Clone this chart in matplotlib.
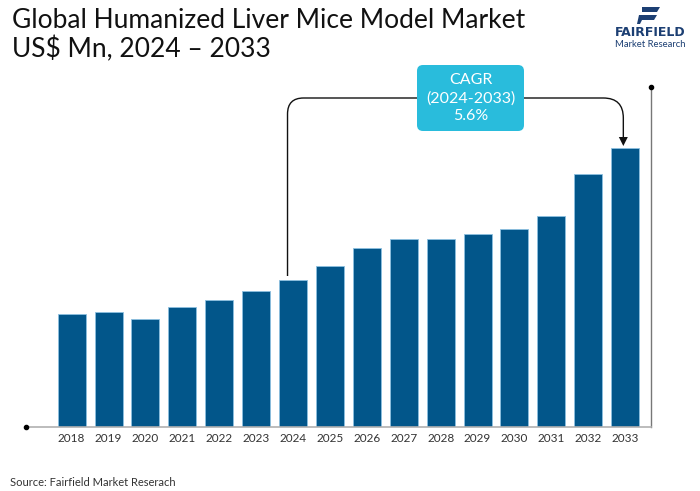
import matplotlib
matplotlib.use("Agg")
import matplotlib.pyplot as plt
from matplotlib.patches import FancyBboxPatch
from matplotlib.path import Path
from matplotlib.patches import PathPatch
import matplotlib.transforms as mtransforms

years = ["2018", "2019", "2020", "2021", "2022", "2023", "2024", "2025",
         "2026", "2027", "2028", "2029", "2030", "2031", "2032", "2033"]
values = [113, 115, 108, 120, 127, 136, 147, 161, 179, 188, 188, 193, 198, 211, 253, 279]

title_lines = ["Global Humanized Liver Mice Model Market", "US$ Mn, 2024 \u2013 2033"]
cagr_text = "CAGR\n(2024-2033)\n5.6%"
source_text = "Source: Fairfield Market Reserach"

plt.rcParams['font.family'] = ['Lato', 'DejaVu Sans']

W, H = 700, 491
fig = plt.figure(figsize=(7, 4.91), dpi=100)
fig.patch.set_facecolor("white")

ax_l, ax_r, ax_b, ax_t = 27, 651, 427, 87
ax = fig.add_axes([ax_l / W, (H - ax_b) / H, (ax_r - ax_l) / W, (ax_b - ax_t) / H])
x = list(range(len(years)))
ax.bar(x, values, width=0.76, color="#02568a", edgecolor="#8cc0e0", linewidth=0.6, zorder=2)
ax.set_xlim(-1.21, 15.70)
ax.set_ylim(0, ax_b - ax_t)
ax.set_xticks(x)
ax.set_xticklabels(years, fontsize=8.5, color="#333333")
ax.tick_params(axis="x", length=0, pad=4)
ax.set_yticks([])
for s in ["top", "left"]:
    ax.spines[s].set_visible(False)
ax.spines["bottom"].set_color("#b0b0b0")
ax.spines["bottom"].set_linewidth(1.2)
ax.spines["right"].set_color("#777777")
ax.spines["right"].set_linewidth(1.0)
ax.spines["bottom"].set_zorder(3)

pix = mtransforms.Affine2D().scale(1 / W, -1 / H).translate(0, 1) + fig.transFigure

fig.lines.append(plt.Line2D([26], [427.5], transform=pix, marker="o", markersize=3, color="black"))
fig.lines.append(plt.Line2D([651], [87], transform=pix, marker="o", markersize=3, color="black"))

fig.text(12 / W, 1 - 8 / H, title_lines[0] + "\n" + title_lines[1], fontsize=19,
         color="#111111", va="top", ha="left", linespacing=1.15)

# logo
fig.text(650 / W, 1 - 33 / H, "FAIRFIELD", fontsize=9, fontweight="bold", color="#1c3f73",
         ha="center", va="center", family=["DejaVu Sans"])
fig.text(650 / W, 1 - 44.5 / H, "Market Research", fontsize=6.8, color="#1c3f73",
         ha="center", va="center")
logo = Path([(642, 7), (660, 7), (657, 12), (642, 12), (642, 7)])
fig.patches.append(PathPatch(logo, transform=pix, color="#1c3f73", lw=0))
logo2 = Path([(639, 15), (657, 15), (654, 20), (642, 20), (640, 24), (637, 24), (639, 15)])
fig.patches.append(PathPatch(logo2, transform=pix, color="#1c3f73", lw=0))

fig.text(10 / W, 1 - 482 / H, source_text, fontsize=8, color="#333333", va="center", ha="left")

fig.canvas.draw()
to_pix = lambda xd, yd: (lambda p: (p[0], H - p[1]))(ax.transData.transform((xd, yd)))
sx, sy = to_pix(6 - 0.15, values[6] + 4)
ex, ey = to_pix(15 - 0.05, values[15] + 2)
hy = 98
box_l, box_r, box_t, box_b = 417, 524, 65, 131
r1, r2 = 16, 20

left_path = Path([(sx, sy), (sx, hy + r1), (sx, hy), (sx + r1, hy), (box_l, hy)],
                 [Path.MOVETO, Path.LINETO, Path.CURVE3, Path.CURVE3, Path.LINETO])
fig.patches.append(PathPatch(left_path, transform=pix, fill=False, edgecolor="#111111", lw=1.0))
right_path = Path([(box_r, hy), (ex - r2, hy), (ex, hy), (ex, hy + r2), (ex, ey - 8)],
                  [Path.MOVETO, Path.LINETO, Path.CURVE3, Path.CURVE3, Path.LINETO])
fig.patches.append(PathPatch(right_path, transform=pix, fill=False, edgecolor="#111111", lw=1.0))
arrow = Path([(ex - 4.5, ey - 9), (ex + 4.5, ey - 9), (ex, ey), (ex - 4.5, ey - 9)])
fig.patches.append(PathPatch(arrow, transform=pix, color="#111111", lw=0))

box = FancyBboxPatch((box_l + 6, box_t + 6), box_r - box_l - 12, box_b - box_t - 12,
                     boxstyle="round,pad=6", transform=pix, facecolor="#29bcdc",
                     edgecolor="none")
fig.patches.append(box)
cx, cy = (box_l + box_r) / 2, (box_t + box_b) / 2
fig.text(cx / W, 1 - cy / H, cagr_text, fontsize=11.5, color="white", ha="center",
         va="center", linespacing=1.3)

fig.savefig("out.png", dpi=100)
